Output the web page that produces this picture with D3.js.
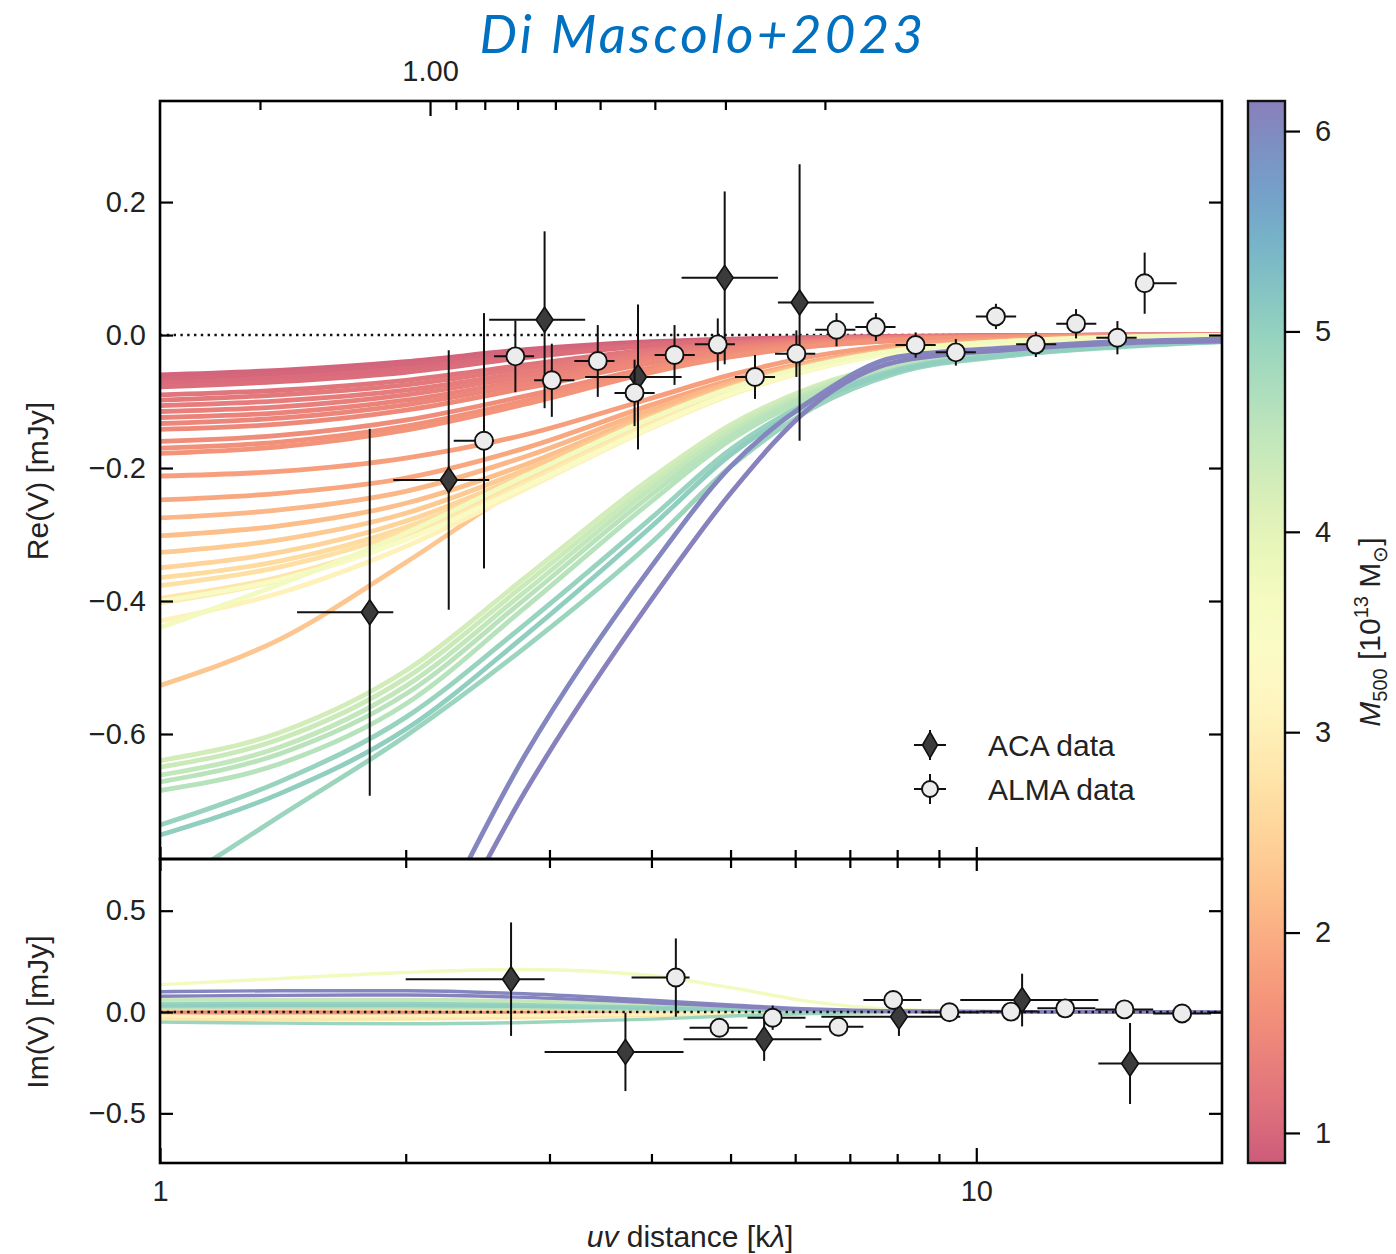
<!DOCTYPE html>
<html>
<head>
<meta charset="utf-8">
<title>Re(V) and Im(V) versus uv distance</title>
<script src="https://cdn.jsdelivr.net/npm/d3@7"></script>
<style>
  html, body { margin: 0; padding: 0; background: #fff; }
  svg { display: block; }
</style>
</head>
<body>
<svg id="fig" width="1396" height="1254"></svg>
<script>
// uv distances (kλ) at which every model curve is tabulated
const uvNodes = [1, 1.4, 2, 2.8, 4, 5, 6.3, 8, 11, 15, 20];

// M500 [1e13 Msun] of each model and its real part Re(V) [mJy] at uvNodes
const reModelMass = [
  0.95, 1.00, 1.05, 1.10, 1.20, 1.25, 1.30, 1.35, 1.40, 1.45, 1.50, 1.55, 1.60, 1.65, 1.80,
  1.90, 2.10, 2.20, 2.35, 2.50, 2.60, 2.70, 2.80, 2.90, 2.30,
  3.70, 3.05, 3.55,
  4.25, 4.35, 4.45, 4.55, 4.60,
  4.95, 5.05, 4.90,
  6.05, 6.10
];
const reModelValues = [
  [-0.060, -0.053, -0.040, -0.022, -0.010, -0.006, -0.004, -0.002, -0.001, 0, 0],
  [-0.066, -0.058, -0.044, -0.026, -0.012, -0.007, -0.004, -0.002, -0.001, 0, 0],
  [-0.072, -0.064, -0.050, -0.030, -0.014, -0.008, -0.005, -0.003, -0.001, 0, 0],
  [-0.078, -0.070, -0.056, -0.034, -0.016, -0.009, -0.005, -0.003, -0.001, 0, 0],
  [-0.090, -0.083, -0.068, -0.045, -0.022, -0.012, -0.006, -0.003, -0.001, 0, 0],
  [-0.098, -0.090, -0.075, -0.050, -0.025, -0.014, -0.007, -0.003, -0.001, 0, 0],
  [-0.106, -0.099, -0.083, -0.056, -0.028, -0.016, -0.008, -0.004, -0.002, -0.001, 0],
  [-0.115, -0.108, -0.090, -0.062, -0.031, -0.018, -0.009, -0.004, -0.002, -0.001, 0],
  [-0.124, -0.117, -0.098, -0.068, -0.035, -0.020, -0.010, -0.005, -0.002, -0.001, 0],
  [-0.133, -0.125, -0.105, -0.074, -0.038, -0.022, -0.011, -0.005, -0.002, -0.001, 0],
  [-0.142, -0.134, -0.113, -0.080, -0.042, -0.024, -0.012, -0.006, -0.002, -0.001, 0],
  [-0.160, -0.151, -0.128, -0.092, -0.049, -0.028, -0.014, -0.007, -0.003, -0.001, 0],
  [-0.170, -0.161, -0.137, -0.099, -0.053, -0.031, -0.016, -0.008, -0.003, -0.001, 0],
  [-0.178, -0.168, -0.143, -0.104, -0.056, -0.033, -0.017, -0.008, -0.003, -0.001, 0],
  [-0.212, -0.205, -0.185, -0.150, -0.095, -0.060, -0.032, -0.015, -0.006, -0.002, -0.001],
  [-0.248, -0.238, -0.215, -0.170, -0.105, -0.068, -0.040, -0.020, -0.008, -0.003, -0.001],
  [-0.275, -0.263, -0.235, -0.183, -0.112, -0.072, -0.042, -0.021, -0.009, -0.003, -0.001],
  [-0.302, -0.287, -0.253, -0.195, -0.118, -0.076, -0.044, -0.022, -0.009, -0.003, -0.001],
  [-0.327, -0.308, -0.268, -0.203, -0.122, -0.078, -0.045, -0.023, -0.010, -0.004, -0.001],
  [-0.350, -0.327, -0.280, -0.210, -0.126, -0.080, -0.046, -0.023, -0.010, -0.004, -0.001],
  [-0.365, -0.340, -0.289, -0.215, -0.129, -0.082, -0.047, -0.024, -0.010, -0.004, -0.001],
  [-0.377, -0.349, -0.295, -0.218, -0.131, -0.083, -0.048, -0.024, -0.010, -0.004, -0.001],
  [-0.396, -0.364, -0.304, -0.222, -0.133, -0.085, -0.049, -0.025, -0.011, -0.004, -0.001],
  [-0.403, -0.369, -0.307, -0.224, -0.134, -0.086, -0.049, -0.025, -0.011, -0.004, -0.001],
  [-0.527, -0.458, -0.342, -0.225, -0.130, -0.083, -0.048, -0.024, -0.010, -0.004, -0.001],
  [-0.440, -0.375, -0.298, -0.212, -0.125, -0.080, -0.046, -0.023, -0.009, -0.003, -0.001],
  [-0.430, -0.388, -0.318, -0.232, -0.140, -0.090, -0.052, -0.026, -0.011, -0.004, -0.001],
  [-0.400, -0.368, -0.308, -0.228, -0.138, -0.088, -0.051, -0.026, -0.011, -0.004, -0.001],
  [-0.640, -0.598, -0.505, -0.365, -0.215, -0.135, -0.078, -0.042, -0.023, -0.013, -0.007],
  [-0.650, -0.608, -0.516, -0.375, -0.223, -0.140, -0.081, -0.044, -0.024, -0.013, -0.007],
  [-0.662, -0.620, -0.528, -0.386, -0.231, -0.146, -0.085, -0.046, -0.025, -0.014, -0.008],
  [-0.672, -0.630, -0.540, -0.397, -0.240, -0.152, -0.088, -0.048, -0.026, -0.015, -0.008],
  [-0.685, -0.645, -0.555, -0.410, -0.250, -0.158, -0.092, -0.050, -0.027, -0.015, -0.009],
  [-0.737, -0.672, -0.575, -0.435, -0.275, -0.172, -0.098, -0.052, -0.029, -0.016, -0.009],
  [-0.752, -0.690, -0.593, -0.452, -0.288, -0.180, -0.102, -0.054, -0.030, -0.017, -0.010],
  [-0.840, -0.724, -0.603, -0.470, -0.312, -0.198, -0.110, -0.057, -0.031, -0.018, -0.010],
  [-1.550, -1.280, -0.970, -0.632, -0.348, -0.198, -0.097, -0.033, -0.019, -0.010, -0.006],
  [-1.620, -1.350, -1.020, -0.687, -0.398, -0.238, -0.106, -0.040, -0.022, -0.012, -0.009]
];

// imaginary part Im(V) [mJy] of a subset of models at uvNodes
const imModelMass = [1.30, 1.60, 2.20, 2.50, 2.80, 3.05, 3.70, 4.25, 4.45, 4.60, 4.90, 4.95, 5.05, 6.05, 6.10];
const imModelValues = [
  [0.005, 0.005, 0.004, 0.003, 0.002, 0.001, 0, 0, 0, 0, 0],
  [-0.008, -0.008, -0.007, -0.005, -0.003, -0.002, -0.001, 0, 0, 0, 0],
  [-0.025, -0.026, -0.025, -0.020, -0.012, -0.007, -0.003, -0.001, 0, 0, 0],
  [0.015, 0.016, 0.015, 0.012, 0.008, 0.005, 0.002, 0.001, 0, 0, 0],
  [-0.035, -0.036, -0.035, -0.028, -0.017, -0.010, -0.004, -0.001, 0, 0, 0],
  [-0.020, -0.021, -0.020, -0.016, -0.010, -0.006, -0.002, 0, 0, 0, 0],
  [0.135, 0.165, 0.195, 0.210, 0.180, 0.120, 0.050, 0.013, 0.003, 0.001, 0],
  [0.048, 0.050, 0.050, 0.044, 0.030, 0.018, 0.008, 0.003, 0.001, 0, 0],
  [0.060, 0.062, 0.062, 0.055, 0.038, 0.022, 0.010, 0.003, 0.001, 0, 0],
  [0.022, 0.024, 0.024, 0.020, 0.013, 0.008, 0.003, 0.001, 0, 0, 0],
  [-0.050, -0.055, -0.058, -0.052, -0.035, -0.020, -0.008, -0.002, 0, 0, 0],
  [0.040, 0.042, 0.042, 0.036, 0.024, 0.014, 0.006, 0.002, 0, 0, 0],
  [0.030, 0.032, 0.032, 0.028, 0.018, 0.010, 0.005, 0.002, 0, 0, 0],
  [0.100, 0.105, 0.105, 0.090, 0.058, 0.035, 0.015, 0.005, 0.002, 0.001, 0],
  [0.078, 0.082, 0.084, 0.072, 0.046, 0.028, 0.012, 0.004, 0.001, 0, 0]
];

// binned visibilities: [uv (kλ), value (mJy), 1σ error, bin low, bin high]
const acaRe = [
  [1.807, -0.417, 0.276, 1.472, 1.931],
  [2.258, -0.218, 0.195, 1.931, 2.531],
  [2.959, 0.023, 0.133, 2.531, 3.318],
  [3.851, -0.063, 0.109, 3.318, 4.355],
  [4.918, 0.086, 0.130, 4.355, 5.715],
  [6.075, 0.049, 0.208, 5.715, 7.490]
];
const almaRe = [
  [2.494, -0.159, 0.192, 2.290, 2.566],
  [2.725, -0.032, 0.054, 2.566, 2.873],
  [3.020, -0.068, 0.055, 2.873, 3.218],
  [3.438, -0.039, 0.054, 3.218, 3.604],
  [3.814, -0.087, 0.050, 3.604, 4.036],
  [4.269, -0.030, 0.045, 4.036, 4.520],
  [4.823, -0.014, 0.039, 4.520, 5.062],
  [5.357, -0.063, 0.033, 5.062, 5.669],
  [6.020, -0.028, 0.035, 5.669, 6.349],
  [6.742, 0.008, 0.025, 6.349, 7.110],
  [7.534, 0.012, 0.021, 7.110, 7.963],
  [8.428, -0.015, 0.019, 7.963, 8.918],
  [9.440, -0.026, 0.020, 8.918, 9.988],
  [10.57, 0.028, 0.019, 9.988, 11.19],
  [11.83, -0.014, 0.019, 11.19, 12.53],
  [13.25, 0.017, 0.022, 12.53, 14.03],
  [14.89, -0.004, 0.025, 14.03, 15.72],
  [16.08, 0.078, 0.046, 15.72, 17.60]
];
const acaIm = [
  [2.692, 0.162, 0.280, 2.000, 2.959],
  [3.717, -0.197, 0.193, 2.959, 4.379],
  [5.497, -0.134, 0.107, 4.379, 6.460],
  [8.040, -0.023, 0.095, 6.460, 9.559],
  [11.38, 0.059, 0.130, 9.559, 14.11],
  [15.43, -0.254, 0.200, 14.11, 20.87]
];
const almaIm = [
  [4.285, 0.170, 0.193, 3.782, 4.454],
  [4.845, -0.078, 0.030, 4.454, 5.245],
  [5.631, -0.028, 0.060, 5.245, 6.177],
  [6.780, -0.073, 0.030, 6.177, 7.273],
  [7.912, 0.059, 0.035, 7.273, 8.565],
  [9.270, -0.001, 0.030, 8.565, 10.09],
  [11.03, 0.002, 0.030, 10.09, 11.88],
  [12.85, 0.018, 0.030, 11.88, 13.99],
  [15.19, 0.013, 0.030, 13.99, 16.47],
  [17.87, -0.007, 0.030, 16.47, 19.39]
];

// tick values
const reTicks = [0.2, 0, -0.2, -0.4, -0.6];
const imTicks = [0.5, 0, -0.5];
const uvMajorTicks = [1, 10];
const uvMinorTicks = [2, 3, 4, 5, 6, 7, 8, 9];
const angMajorTicks = [1];
const angMinorTicks = [2, 0.9, 0.8, 0.7, 0.6, 0.5, 0.4, 0.3, 0.2];
const massTicks = [1, 2, 3, 4, 5, 6];
const legendLabels = ["ACA data", "ALMA data"];

// ---------------------------------------------------------------------------
const FONT = '"Liberation Sans", Arial, Helvetica, sans-serif';
const L = 160, R = 1222, T = 101, S = 859, B = 1163;
const CB_X = 1248, CB_W = 37;

const svg = d3.select("#fig");

const x = d3.scaleLog().domain([1, 20]).range([L, R]);
const yRe = d3.scaleLinear().domain([-0.788, 0.352]).range([S, T]);
const yIm = d3.scaleLinear().domain([-0.745, 0.755]).range([B, S]);
const ang = d3.scaleLog().domain([3.006, 0.03964]).range([L, R]);
const cbScale = d3.scaleLinear().domain([0.85, 6.15]).range([B, T]);
// Spectral colour map, lightly washed towards white
const massT = d3.scaleLinear().domain([0.85, 6.15]).range([0.05, 1]).clamp(true);
const massColor = m => d3.interpolateRgb(d3.interpolateSpectral(massT(m)), "#ffffff")(0.27);

const defs = svg.append("defs");
defs.append("clipPath").attr("id", "clipRe").append("rect")
  .attr("x", L).attr("y", T).attr("width", R - L).attr("height", S - T);
defs.append("clipPath").attr("id", "clipIm").append("rect")
  .attr("x", L).attr("y", S).attr("width", R - L).attr("height", B - S);

const nodePairs = vals => uvNodes.map((u, i) => [u, vals[i]]);
const lineRe = d3.line().x(d => x(d[0])).y(d => yRe(d[1])).curve(d3.curveMonotoneX);
const lineIm = d3.line().x(d => x(d[0])).y(d => yIm(d[1])).curve(d3.curveMonotoneX);

// ---- upper panel: real part ----
const gRe = svg.append("g").attr("clip-path", "url(#clipRe)");
gRe.append("line")
  .attr("x1", L).attr("x2", R).attr("y1", yRe(0)).attr("y2", yRe(0))
  .attr("stroke", "#111").attr("stroke-width", 2.6).attr("stroke-dasharray", "2.4,4.4");

const reOrder = d3.range(reModelMass.length).sort((a, b) => reModelMass[a] - reModelMass[b]);
gRe.append("g").selectAll("path").data(reOrder).join("path")
  .attr("d", i => lineRe(nodePairs(reModelValues[i])))
  .attr("fill", "none")
  .attr("stroke", i => massColor(reModelMass[i]))
  .attr("stroke-width", 4.8)
  .attr("stroke-linecap", "round");

// ---- lower panel: imaginary part ----
const gIm = svg.append("g").attr("clip-path", "url(#clipIm)");
const imOrder = d3.range(imModelMass.length).sort((a, b) => imModelMass[a] - imModelMass[b]);
gIm.append("g").selectAll("path").data(imOrder).join("path")
  .attr("d", i => lineIm(nodePairs(imModelValues[i])))
  .attr("fill", "none")
  .attr("stroke", i => massColor(imModelMass[i]))
  .attr("stroke-width", 3.4)
  .attr("stroke-linecap", "round");
gIm.append("line")
  .attr("x1", L).attr("x2", R).attr("y1", yIm(0)).attr("y2", yIm(0))
  .attr("stroke", "#111").attr("stroke-width", 2.6).attr("stroke-dasharray", "2.4,4.4");

// ---- data points with error bars ----
const diamondPath = (w, h) => `M0,${-h}L${w},0L0,${h}L${-w},0Z`;

function drawSeries(layer, data, yScale, kind) {
  const g = layer.append("g");
  const bars = g.append("g").attr("stroke", "#111").attr("stroke-width", 2);
  bars.selectAll("line.h").data(data).join("line").attr("class", "h")
    .attr("x1", d => x(d[3])).attr("x2", d => x(d[4]))
    .attr("y1", d => yScale(d[1])).attr("y2", d => yScale(d[1]));
  bars.selectAll("line.v").data(data).join("line").attr("class", "v")
    .attr("x1", d => x(d[0])).attr("x2", d => x(d[0]))
    .attr("y1", d => yScale(d[1] - d[2])).attr("y2", d => yScale(d[1] + d[2]));
  if (kind === "aca") {
    g.selectAll("path.mk").data(data).join("path").attr("class", "mk")
      .attr("transform", d => `translate(${x(d[0])},${yScale(d[1])})`)
      .attr("d", diamondPath(8.5, 12.5))
      .attr("fill", "#3b3b3b").attr("stroke", "#111").attr("stroke-width", 1.6);
  } else {
    g.selectAll("circle.mk").data(data).join("circle").attr("class", "mk")
      .attr("cx", d => x(d[0])).attr("cy", d => yScale(d[1])).attr("r", 9)
      .attr("fill", "#ececec").attr("stroke", "#111").attr("stroke-width", 1.9);
  }
}
const ptsRe = svg.append("g").attr("clip-path", "url(#clipRe)");
drawSeries(ptsRe, acaRe, yRe, "aca");
drawSeries(ptsRe, almaRe, yRe, "alma");
const ptsIm = svg.append("g").attr("clip-path", "url(#clipIm)");
drawSeries(ptsIm, acaIm, yIm, "aca");
drawSeries(ptsIm, almaIm, yIm, "alma");

// ---- legend ----
const legend = svg.append("g").attr("transform", "translate(930,745)");
legendLabels.forEach((label, i) => {
  const row = legend.append("g").attr("transform", `translate(0,${i * 44})`);
  row.append("line").attr("x1", -16).attr("x2", 16).attr("y1", 0).attr("y2", 0)
    .attr("stroke", "#111").attr("stroke-width", 2);
  row.append("line").attr("x1", 0).attr("x2", 0).attr("y1", -15).attr("y2", 15)
    .attr("stroke", "#111").attr("stroke-width", 2);
  if (i === 0) {
    row.append("path").attr("d", diamondPath(7.5, 13))
      .attr("fill", "#3b3b3b").attr("stroke", "#111").attr("stroke-width", 1.6);
  } else {
    row.append("circle").attr("r", 8)
      .attr("fill", "#ececec").attr("stroke", "#111").attr("stroke-width", 1.9);
  }
  row.append("text").attr("x", 58).attr("y", 11)
    .attr("font-family", FONT).attr("font-size", 30).attr("fill", "#222")
    .text(label);
});

// ---- axes ----
function styleAxis(g) {
  g.select(".domain").remove();
  g.attr("font-family", FONT).attr("font-size", 29).attr("color", "#000");
  g.selectAll(".tick line").attr("stroke-width", 2.2);
  g.selectAll(".tick text").attr("fill", "#222");
}
const fmt1 = d3.format(".1f");

svg.append("g").attr("transform", `translate(${L},0)`)
  .call(d3.axisLeft(yRe).tickValues(reTicks).tickFormat(fmt1).tickSizeInner(-13).tickSizeOuter(0).tickPadding(14))
  .call(styleAxis);
svg.append("g").attr("transform", `translate(${R},0)`)
  .call(d3.axisRight(yRe).tickValues(reTicks).tickFormat(() => "").tickSizeInner(-13).tickSizeOuter(0))
  .call(styleAxis);
svg.append("g").attr("transform", `translate(${L},0)`)
  .call(d3.axisLeft(yIm).tickValues(imTicks).tickFormat(fmt1).tickSizeInner(-13).tickSizeOuter(0).tickPadding(14))
  .call(styleAxis);
svg.append("g").attr("transform", `translate(${R},0)`)
  .call(d3.axisRight(yIm).tickValues(imTicks).tickFormat(() => "").tickSizeInner(-13).tickSizeOuter(0))
  .call(styleAxis);

// uv distance axis: bottom of the lower panel (labelled) and the shared edge
svg.append("g").attr("transform", `translate(0,${B})`)
  .call(d3.axisBottom(x).tickValues(uvMajorTicks).tickFormat(d3.format("d")).tickSizeInner(-15).tickSizeOuter(0).tickPadding(17))
  .call(styleAxis);
svg.append("g").attr("transform", `translate(0,${B})`)
  .call(d3.axisBottom(x).tickValues(uvMinorTicks).tickFormat(() => "").tickSizeInner(-9).tickSizeOuter(0))
  .call(styleAxis);
[[uvMajorTicks, -12], [uvMinorTicks, -9]].forEach(([vals, len]) => {
  svg.append("g").attr("transform", `translate(0,${S})`)
    .call(d3.axisTop(x).tickValues(vals).tickFormat(() => "").tickSizeInner(len).tickSizeOuter(0))
    .call(styleAxis);
  svg.append("g").attr("transform", `translate(0,${S})`)
    .call(d3.axisBottom(x).tickValues(vals).tickFormat(() => "").tickSizeInner(len).tickSizeOuter(0))
    .call(styleAxis);
});

// angular-scale axis on top of the upper panel
svg.append("g").attr("transform", `translate(0,${T})`)
  .call(d3.axisTop(ang).tickValues(angMajorTicks).tickFormat(d3.format(".2f")).tickSizeInner(-15).tickSizeOuter(0).tickPadding(20))
  .call(styleAxis);
svg.append("g").attr("transform", `translate(0,${T})`)
  .call(d3.axisTop(ang).tickValues(angMinorTicks).tickFormat(() => "").tickSizeInner(-9).tickSizeOuter(0))
  .call(styleAxis);

// panel frames
[[T, S], [S, B]].forEach(([y0, y1]) => {
  svg.append("rect").attr("x", L).attr("y", y0).attr("width", R - L).attr("height", y1 - y0)
    .attr("fill", "none").attr("stroke", "#000").attr("stroke-width", 2.6);
});

// axis titles
svg.append("text").attr("transform", "translate(48,481) rotate(-90)")
  .attr("text-anchor", "middle").attr("font-family", FONT).attr("font-size", 30).attr("fill", "#222")
  .text("Re(V) [mJy]");
svg.append("text").attr("transform", "translate(48,1012) rotate(-90)")
  .attr("text-anchor", "middle").attr("font-family", FONT).attr("font-size", 30).attr("fill", "#222")
  .text("Im(V) [mJy]");
const xTitle = svg.append("text").attr("x", 690).attr("y", 1247)
  .attr("text-anchor", "middle").attr("font-family", FONT).attr("font-size", 30).attr("fill", "#222");
xTitle.append("tspan").attr("font-style", "italic").text("uv");
xTitle.append("tspan").text(" distance [k");
xTitle.append("tspan").attr("font-style", "italic").text("λ");
xTitle.append("tspan").text("]");

// ---- colour bar ----
const grad = defs.append("linearGradient").attr("id", "massGrad")
  .attr("x1", 0).attr("y1", 1).attr("x2", 0).attr("y2", 0);
grad.selectAll("stop").data(d3.range(0, 1.0001, 0.02)).join("stop")
  .attr("offset", t => t)
  .attr("stop-color", t => massColor(cbScale.domain()[0] + t * (cbScale.domain()[1] - cbScale.domain()[0])));
svg.append("rect").attr("x", CB_X).attr("y", T).attr("width", CB_W).attr("height", B - T)
  .attr("fill", "url(#massGrad)").attr("stroke", "#111").attr("stroke-width", 2.4);
svg.append("g").attr("transform", `translate(${CB_X + CB_W},0)`)
  .call(d3.axisRight(cbScale).tickValues(massTicks).tickFormat(d3.format("d")).tickSizeInner(15).tickSizeOuter(0).tickPadding(15))
  .call(styleAxis);

const cbTitle = svg.append("text").attr("transform", "translate(1380,632) rotate(-90)")
  .attr("text-anchor", "middle").attr("font-family", FONT).attr("font-size", 30).attr("fill", "#222");
cbTitle.append("tspan").attr("font-style", "italic").text("M");
cbTitle.append("tspan").attr("font-size", 20).attr("dy", 7).text("500");
cbTitle.append("tspan").attr("dy", -7).text(" [10");
cbTitle.append("tspan").attr("font-size", 20).attr("dy", -12).text("13");
cbTitle.append("tspan").attr("dy", 12).text(" M");
cbTitle.append("tspan").attr("font-size", 20).attr("dy", 7).text("⊙");
cbTitle.append("tspan").attr("dy", -7).text("]");

// ---- heading ----
const heading = svg.append("text").attr("x", 703).attr("y", 53)
  .attr("text-anchor", "middle")
  .attr("font-family", "Lato, 'Open Sans', sans-serif").attr("font-style", "italic")
  .attr("font-size", 53).attr("fill", "#0070c0")
  .text("Di Mascolo+2023");
const hw = heading.node().getComputedTextLength();
if (hw > 0 && Math.abs(447 - hw) > 2) heading.attr("letter-spacing", ((447 - hw) / 15).toFixed(2));
</script>
</body>
</html>
